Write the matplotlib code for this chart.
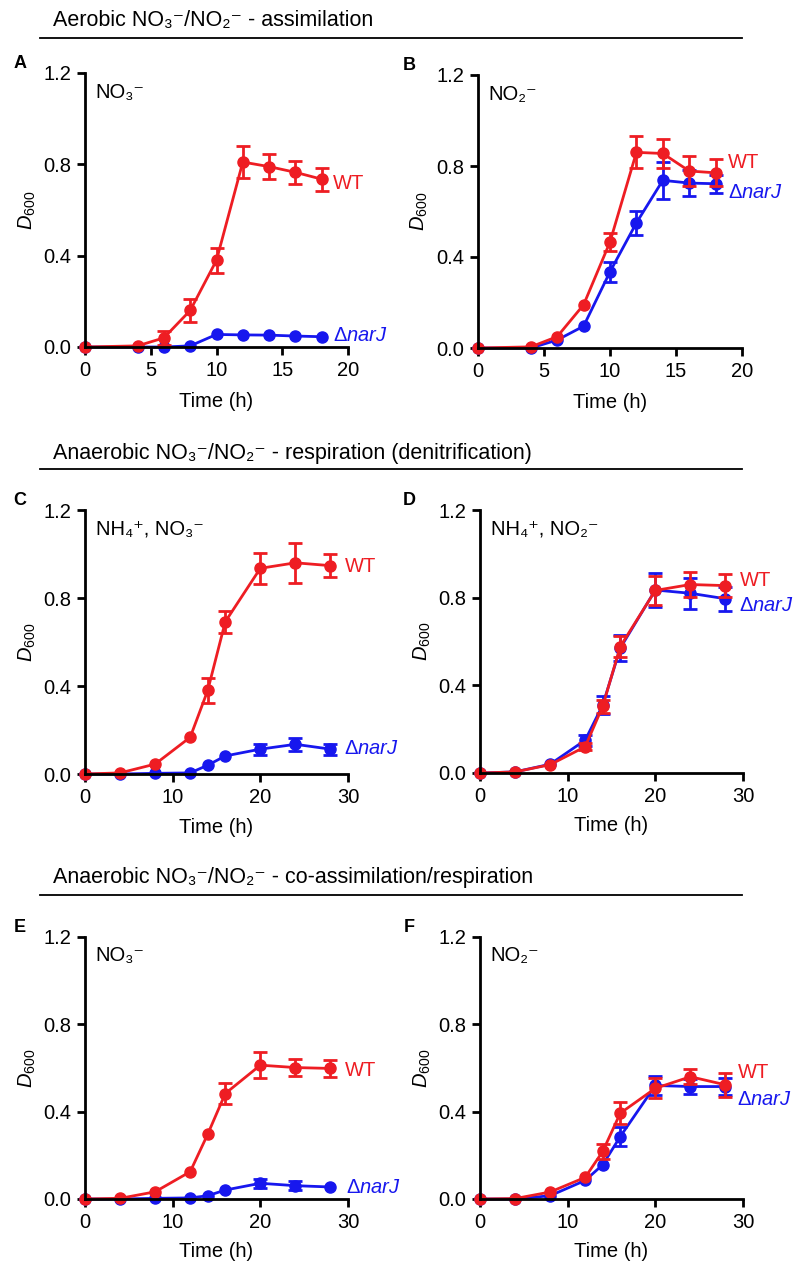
import numpy as np
import matplotlib
matplotlib.use("Agg")
from matplotlib import pyplot as plt
from matplotlib import font_manager as fm
from matplotlib.lines import Line2D

nan = np.nan

# 数据：各面板的时间点与 D600 值
t_aerobic = [0, 4, 6, 8, 10, 12, 14, 16, 18]
t_anaerobic = [0, 4, 8, 12, 14, 16, 20, 24, 28]

A_wt = [0, 0.005, 0.04, 0.16, 0.38, 0.81, 0.79, 0.765, 0.735]
A_wt_err = [nan, nan, 0.03, 0.05, 0.055, 0.07, 0.055, 0.05, 0.05]
A_mut = [0, 0, 0, 0.005, 0.055, 0.053, 0.052, 0.048, 0.045]
A_mut_err = [nan] * 9

B_wt = [0, 0.005, 0.05, 0.19, 0.466, 0.86, 0.855, 0.778, 0.77]
B_wt_err = [nan, nan, nan, nan, 0.04, 0.07, 0.065, 0.065, 0.06]
B_mut = [0, 0, 0.035, 0.096, 0.335, 0.55, 0.737, 0.725, 0.722]
B_mut_err = [nan, nan, nan, nan, 0.045, 0.053, 0.08, 0.058, 0.04]

C_wt = [0, 0.005, 0.045, 0.167, 0.38, 0.692, 0.935, 0.96, 0.947]
C_wt_err = [nan, nan, nan, nan, 0.057, 0.05, 0.07, 0.09, 0.052]
C_mut = [0, 0, 0.003, 0.005, 0.04, 0.082, 0.113, 0.135, 0.113]
C_mut_err = [nan, nan, nan, nan, nan, nan, 0.025, 0.03, 0.025]

D_wt = [0, 0.005, 0.038, 0.12, 0.305, 0.577, 0.833, 0.86, 0.855]
D_wt_err = [nan, nan, nan, 0.015, 0.03, 0.05, 0.065, 0.055, 0.053]
D_mut = [0, 0.005, 0.04, 0.15, 0.31, 0.57, 0.835, 0.82, 0.795]
D_mut_err = [nan, nan, nan, 0.025, 0.04, 0.06, 0.077, 0.07, 0.055]

E_wt = [0, 0.003, 0.033, 0.125, 0.297, 0.483, 0.613, 0.602, 0.598]
E_wt_err = [nan, nan, nan, nan, nan, 0.05, 0.06, 0.04, 0.04]
E_mut = [0, 0, 0.003, 0.005, 0.015, 0.041, 0.072, 0.061, 0.055]
E_mut_err = [nan, nan, nan, nan, nan, nan, 0.02, 0.02, nan]

F_wt = [0, 0.002, 0.032, 0.099, 0.218, 0.393, 0.507, 0.56, 0.523]
F_wt_err = [nan, nan, nan, nan, 0.035, 0.05, 0.045, 0.035, 0.055]
F_mut = [0, 0, 0.015, 0.085, 0.157, 0.286, 0.52, 0.515, 0.515]
F_mut_err = [nan, nan, nan, nan, nan, 0.045, 0.045, 0.035, 0.04]

y_ticks = [0, 0.4, 0.8, 1.2]
y_ticklabels = ["0.0", "0.4", "0.8", "1.2"]

headers = [
    "Aerobic NO₃⁻/NO₂⁻ - assimilation",
    "Anaerobic NO₃⁻/NO₂⁻ - respiration (denitrification)",
    "Anaerobic NO₃⁻/NO₂⁻ - co-assimilation/respiration",
]

# 字体
names = {f.name for f in fm.fontManager.ttflist}
base = "Liberation Sans Narrow" if "Liberation Sans Narrow" in names else "Liberation Sans"
plt.rcParams["font.family"] = [base, "DejaVu Sans"]
plt.rcParams["mathtext.fontset"] = "custom"
plt.rcParams["mathtext.rm"] = base
plt.rcParams["mathtext.it"] = base + ":italic"
plt.rcParams["mathtext.bf"] = base + ":bold"

RED = "#EE1D23"
BLUE = "#1717EE"

W, H = 796, 1263
fig = plt.figure(figsize=(W / 100, H / 100), dpi=100)

# 面板：字母, 时间, 数据, 条件标签, 位置(左, 右, 上, 下 像素), x 轴最大值, 标签偏移
panels = [
    ("A", t_aerobic, A_wt, A_wt_err, A_mut, A_mut_err, "NO₃⁻",
     (85, 348, 73, 347), 20, (11, -4), (11, 1)),
    ("B", t_aerobic, B_wt, B_wt_err, B_mut, B_mut_err, "NO₂⁻",
     (478, 742, 75, 348), 20, (12, 10), (12, -9)),
    ("C", t_anaerobic, C_wt, C_wt_err, C_mut, C_mut_err, "NH₄⁺, NO₃⁻",
     (85, 348, 510, 774), 30, (14, -1), (14, 1)),
    ("D", t_anaerobic, D_wt, D_wt_err, D_mut, D_mut_err, "NH₄⁺, NO₂⁻",
     (480, 743, 510, 773), 30, (14, 5), (14, -7)),
    ("E", t_anaerobic, E_wt, E_wt_err, E_mut, E_mut_err, "NO₃⁻",
     (85, 348, 937, 1199), 30, (14, -2), (16, -1)),
    ("F", t_anaerobic, F_wt, F_wt_err, F_mut, F_mut_err, "NO₂⁻",
     (480, 743, 937, 1199), 30, (12, 12), (12, -13)),
]

fs = 14.5
for (letter, t, wt, wt_err, mut, mut_err, cond, box, xmax, off_wt, off_mut) in panels:
    l, r, top, bot = box
    ax = fig.add_axes([l / W, 1 - bot / H, (r - l) / W, (bot - top) / H])

    for y, err, col in ((mut, mut_err, BLUE), (wt, wt_err, RED)):
        ax.errorbar(t, y, yerr=err, fmt="none", ecolor=col, elinewidth=2,
                    capsize=5, capthick=2, clip_on=False)
        ax.plot(t, y, "-o", color=col, lw=2, ms=8, clip_on=False)

    ax.annotate("WT", (t[-1], wt[-1]), xytext=off_wt, textcoords="offset pixels",
                ha="left", va="center", color=RED, fontsize=fs)
    ax.annotate(r"Δ$\mathit{narJ}$", (t[-1], mut[-1]), xytext=off_mut,
                textcoords="offset pixels", ha="left", va="center",
                color=BLUE, fontsize=fs)

    ax.set_xlim(0, xmax)
    ax.set_ylim(0, 1.2)
    ax.set_yticks(y_ticks)
    ax.set_yticklabels(y_ticklabels)
    ax.set_xticks(range(0, xmax + 1, 5 if xmax == 20 else 10))
    for s in ("top", "right"):
        ax.spines[s].set_visible(False)
    for s in ("left", "bottom"):
        ax.spines[s].set_linewidth(2)
    ax.tick_params(direction="out", length=6, width=2, labelsize=fs, pad=4)

    ax.set_ylabel(r"$\mathit{D}_{600}$", fontsize=fs)
    ax.yaxis.set_label_coords(-0.18, 0.5)
    ax.set_xlabel("Time (h)", fontsize=fs, va="top")
    ax.xaxis.set_label_coords(0.5, -0.165)

    ax.text(0.04, 0.965, cond, transform=ax.transAxes, ha="left", va="top",
            fontsize=fs)

    lx = 20 if l < 400 else 409
    fig.text(lx / W, 1 - (top - 10) / H, letter, ha="center", va="center",
             fontsize=13, fontweight="bold", family="Liberation Sans")

# 标题与分隔线
for txt, ty, ly in zip(headers, (20, 453, 877), (38, 469, 895)):
    fig.text(53 / W, 1 - ty / H, txt, ha="left", va="center", fontsize=15.5)
    fig.add_artist(Line2D([40 / W, 742 / W], [1 - ly / H, 1 - ly / H],
                          color="black", lw=1.3))

fig.savefig("out.png", dpi=100)
